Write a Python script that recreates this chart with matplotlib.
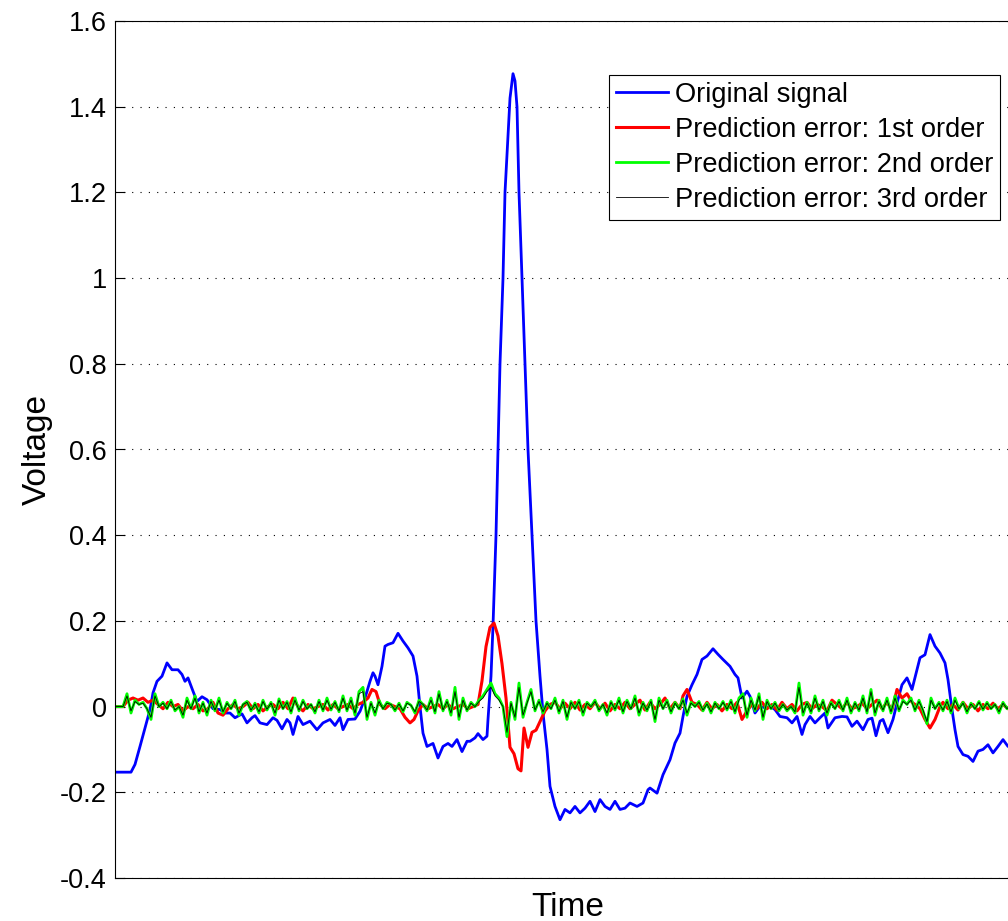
import numpy as np
import matplotlib
matplotlib.use('Agg')
import matplotlib.pyplot as plt
import matplotlib.ticker as ticker

plt.rcParams['font.family'] = ['Liberation Sans', 'DejaVu Sans']

# original ECG-like signal (time in samples, voltage)
blue_t = [0, 16, 20, 25, 30, 35, 38, 42, 47, 52, 57, 63, 67, 70, 73, 78, 82, 87, 92, 98,
          105, 110, 115, 120, 127, 132, 137, 140, 145, 152, 158, 162, 167, 172, 175, 178, 183, 188, 195, 202,
          208, 215, 220, 225, 228, 233, 240, 245, 250, 255, 258, 260, 263, 267, 270, 273, 278, 283, 288, 293,
          298, 302, 305, 308, 312, 318, 323, 328, 333, 337, 342, 347, 352, 355, 360, 363, 368, 372, 373, 376,
          378, 381, 383, 385, 388, 390, 395, 398, 400, 402, 404, 407, 410, 413, 417, 421, 425, 428, 432, 435,
          440, 445, 450, 455, 460, 465, 470, 475, 480, 485, 490, 495, 500, 505, 510, 515, 522, 528, 533, 535,
          542, 548, 555, 560, 565, 568, 572, 577, 582, 587, 592, 598, 603, 608, 615, 620, 623, 627, 632, 635,
          640, 645, 650, 655, 660, 665, 672, 677, 682, 687, 690, 695, 700, 705, 710, 713, 720, 727, 732, 737,
          742, 748, 753, 757, 761, 765, 768, 773, 778, 782, 787, 792, 797, 802, 805, 810, 815, 820, 825, 830,
          833, 837, 840, 843, 848, 853, 858, 863, 868, 873, 878, 883, 888, 893, 900]
blue_v = [-0.153, -0.153, -0.135, -0.093, -0.05, -0.007, 0.032, 0.059, 0.071, 0.102, 0.086, 0.086, 0.075, 0.059, 0.067, 0.036, 0.012, 0.023, 0.016, -0.005,
          -0.007, -0.015, -0.015, -0.026, -0.017, -0.038, -0.026, -0.021, -0.038, -0.042, -0.026, -0.032, -0.052, -0.030, -0.038, -0.065, -0.023, -0.042, -0.034, -0.054,
          -0.038, -0.030, -0.044, -0.026, -0.054, -0.030, -0.029, -0.011, 0.02, 0.059, 0.079, 0.071, 0.051, 0.094, 0.141, 0.145, 0.149, 0.171, 0.153, 0.137,
          0.118, 0.071, 0.0, -0.062, -0.093, -0.086, -0.12, -0.093, -0.086, -0.093, -0.077, -0.105, -0.081, -0.081, -0.073, -0.063, -0.077, -0.069, -0.03, 0.071,
          0.188, 0.4, 0.6, 0.8, 1.0, 1.2, 1.42, 1.477, 1.46, 1.4, 1.2, 1.0, 0.8, 0.6, 0.4, 0.2, 0.071, -0.015, -0.1, -0.186,
          -0.233, -0.264, -0.24, -0.248, -0.233, -0.248, -0.237, -0.221, -0.245, -0.217, -0.233, -0.24, -0.221, -0.24, -0.237, -0.225, -0.233, -0.225, -0.194, -0.19,
          -0.202, -0.159, -0.124, -0.085, -0.062, -0.023, 0.024, 0.051, 0.075, 0.11, 0.118, 0.135, 0.122, 0.11, 0.094, 0.075, 0.067, 0.02, 0.036, 0.024,
          -0.015, 0.001, -0.003, 0.001, -0.007, -0.023, -0.026, -0.038, -0.023, -0.065, -0.042, -0.023, -0.038, -0.026, -0.015, -0.05, -0.026, -0.023, -0.024, -0.046,
          -0.034, -0.054, -0.030, -0.027, -0.068, -0.034, -0.030, -0.061, -0.030, 0.008, 0.051, 0.067, 0.04, 0.086, 0.114, 0.121, 0.168, 0.141, 0.125, 0.102,
          0.063, -0.007, -0.054, -0.093, -0.112, -0.116, -0.128, -0.104, -0.1, -0.089, -0.108, -0.093, -0.077, -0.093, -0.085]

# 1st order prediction error (mV)
red_t = [0, 8, 13, 18, 23, 28, 33, 38, 43, 48, 53, 58, 63, 68, 73, 78, 83, 88, 93, 98,
         103, 108, 113, 118, 123, 128, 133, 138, 143, 148, 153, 158, 163, 168, 173, 178, 183, 188, 193, 198,
         203, 208, 213, 218, 223, 228, 233, 238, 243, 248, 253, 257, 261, 265, 270, 275, 280, 285, 290, 295,
         299, 303, 308, 313, 318, 323, 328, 333, 338, 343, 348, 353, 358, 363, 367, 371, 375, 379, 383, 387,
         391, 395, 399, 403, 406, 409, 413, 417, 421, 425, 430, 435, 440, 445, 450, 455, 460, 465, 470, 475,
         480, 485, 490, 495, 500, 505, 510, 515, 520, 525, 530, 535, 540, 545, 550, 555, 560, 565, 568, 572,
         577, 582, 587, 592, 597, 602, 607, 612, 617, 622, 627, 632, 637, 642, 647, 652, 657, 662, 667, 672,
         677, 682, 687, 692, 697, 702, 707, 712, 717, 722, 727, 732, 737, 742, 747, 752, 757, 762, 767, 772,
         777, 782, 787, 792, 797, 800, 805, 810, 815, 820, 825, 828, 833, 838, 843, 848, 853, 858, 863, 868,
         873, 878, 883, 888, 893, 900]
red_v = [0, 0, 15, 20, 15, 20, 10, 15, 5, -5, 10, 0, 5, -10, 0, -5, 5, -10, -5, 10,
         -15, -20, -5, 5, -5, 0, 10, -5, 5, -10, 0, 5, -5, 10, -5, 20, 0, -10, 5, -5,
         0, 5, -8, 5, -5, 0, 5, -5, 5, 10, 20, 40, 35, 5, -5, 5, 0, -5, -25, -38,
         -30, -10, 5, -5, 0, 5, -5, 5, -5, 0, 5, -5, 0, 5, 60, 140, 185, 195, 165, 100,
         20, -95, -110, -145, -150, -50, -95, -60, -55, -35, -10, 5, 10, -5, 8, -5, 10, -8, 5, -5,
         10, -5, 8, -10, 5, -5, 10, -5, 5, 15, -8, 10, -5, 5, 20, -5, 10, -5, 25, 40,
         10, 5, -8, 10, -5, 5, -10, 5, -5, 10, -30, -10, 5, -5, 10, -5, 5, -8, 10, -5,
         5, -10, 5, 10, -5, 5, 0, -10, 15, 5, -5, 10, -5, 0, 8, -5, 5, 15, -5, 10,
         -8, 40, 20, 30, 10, 5, -5, -30, -50, -30, 0, 10, -5, 5, -8, 10, -5, 5, -10, 5,
         -5, 8, -5, 5, -5, 0]

# 2nd and 3rd order prediction errors (mV), every 4 samples
err_t = list(range(0, 900, 4))
green_v = [0, 0, 0, 30, -15, 15, 5, 10, -5, -30, 30, 0, 10, -5, 15, -10, 0, -25, 20, -5,
           25, -15, 10, -20, 15, -10, 20, -15, 10, -5, 15, -20, 5, 12, -10, 8, -15, 15, -8, 10,
           -20, 18, -5, 12, -15, 20, -10, 15, -5, 5, -15, 15, -10, 20, -8, 12, -12, 25, -10, 20,
           -20, 35, 45, -30, 10, -20, 15, -5, 10, 5, -10, 8, -12, 10, 3, -15, 15, 5, -10, 20,
           -15, 35, -10, 15, -20, 45, -30, 20, -10, 10, 0, 15, 25, 40, 55, 30, 20, 0, -70, 10,
           -30, 55, -25, 10, 40, -10, 15, -15, 10, -5, 20, -15, 15, -30, 12, -5, 15, -20, 10, 0,
           15, -10, 5, -20, 12, -8, 20, -15, 15, -5, 25, -20, 10, -10, 15, -35, 20, -5, 15, -15,
           10, -5, 18, -20, 10, 0, 12, -10, 8, -15, 10, -5, 12, -8, 15, -15, 20, 30, -25, 20,
           -10, 30, -30, 15, -5, 10, -10, 5, -10, 0, -15, 55, -20, 10, -15, 25, -10, 15, -20, 10,
           -5, 15, -10, 20, -15, 10, -10, 25, -15, 40, -20, 15, -10, 20, -15, 25, -10, 15, 5, 20,
           -10, 15, -10, -40, 20, -5, 10, -10, 15, -15, 20, -5, 10, -15, 8, -5, 12, -8, 10, -5,
           5, -15, 10, -5, 5]
black_v = [0, 0, 0, 25, -10, 12, 5, 8, -5, -25, 25, 0, 8, -5, 12, -8, 0, -20, 15, -5,
           20, -12, 8, -15, 12, -8, 15, -12, 8, -5, 12, -15, 5, 10, -8, 6, -12, 12, -6, 8,
           -15, 15, -5, 10, -12, 15, -8, 12, -5, 5, -12, 12, -8, 15, -6, 10, -10, 20, -8, 15,
           -15, 30, 35, -25, 8, -15, 12, -5, 8, 5, -8, 6, -10, 8, 3, -12, 12, 5, -8, 15,
           -12, 30, -8, 12, -15, 35, -25, 15, -8, 8, 0, 12, 20, 35, 45, 25, 15, 0, -60, 8,
           -25, 45, -20, 8, 35, -8, 12, -12, 8, -5, 15, -12, 12, -25, 10, -5, 12, -15, 8, 0,
           12, -8, 5, -15, 10, -6, 15, -12, 12, -5, 20, -15, 8, -8, 12, -30, 15, -5, 12, -12,
           8, -5, 15, -15, 8, 0, 10, -8, 6, -12, 8, -5, 10, -6, 12, -12, 15, 25, -20, 15,
           -8, 25, -25, 12, -5, 8, -8, 5, -8, 0, -12, 45, -15, 8, -12, 20, -8, 12, -15, 8,
           -5, 12, -8, 15, -12, 8, -8, 20, -12, 35, -15, 12, -8, 15, -12, 20, -8, 12, 5, 15,
           -8, 12, -8, -35, 15, -5, 8, -8, 12, -12, 15, -5, 8, -12, 6, -5, 10, -6, 8, -5,
           5, -12, 8, -5, 5]

yticks = [-0.4, -0.2, 0, 0.2, 0.4, 0.6, 0.8, 1.0, 1.2, 1.4, 1.6]

fig = plt.figure(figsize=(10.08, 9.21), dpi=100)
ax = fig.add_axes([115 / 1008, 43 / 921, 905 / 1008, 857 / 921])

ax.plot(blue_t, blue_v, color=(0, 0, 1), lw=2.0, label='Original signal')
ax.plot(red_t, np.array(red_v) / 1000, color=(1, 0, 0), lw=2.2, label='Prediction error: 1st order')
ax.plot(err_t, np.array(green_v) / 1000, color=(0, 1, 0), lw=2.0, label='Prediction error: 2nd order')
ax.plot(err_t, np.array(black_v) / 1000, color='k', lw=0.6, label='Prediction error: 3rd order')

ax.set_xlim(0, 905)
ax.set_ylim(-0.4, 1.6)
ax.set_yticks(yticks)
ax.yaxis.set_major_formatter(ticker.FuncFormatter(lambda v, p: f'{v:g}'))
ax.set_xticks([])
ax.tick_params(axis='y', direction='in', length=7, width=0.8, labelsize=19.5, pad=6)
ax.grid(True, axis='y', color='k', linestyle=(0, (1, 6.5)), linewidth=0.8)
for s in ax.spines.values():
    s.set_linewidth(0.8)

ax.set_xlabel('Time', fontsize=24, labelpad=10)
ax.set_ylabel('Voltage', fontsize=24, labelpad=5)

leg = ax.legend(loc='upper right', bbox_to_anchor=(1000 / 1008, 1 - 75 / 921),
                bbox_transform=fig.transFigure, fontsize=19.6, fancybox=False, framealpha=1,
                edgecolor='k', borderpad=0.25, labelspacing=0.33, handlelength=1.9,
                handletextpad=0.25, borderaxespad=0)
leg.get_frame().set_linewidth(0.8)

fig.savefig('out.png', dpi=100)
